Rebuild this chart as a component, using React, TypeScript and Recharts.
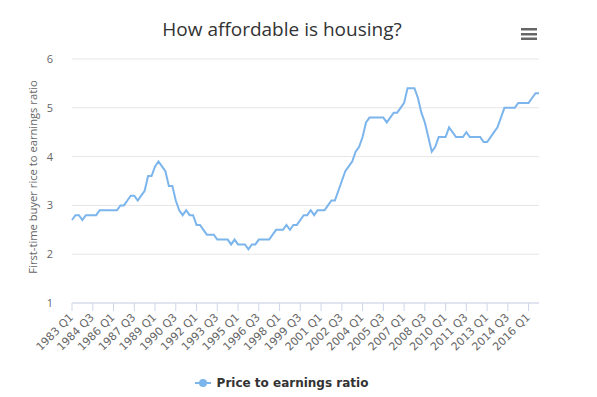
import { LineChart, Line, XAxis, YAxis, CartesianGrid, Legend } from "recharts";

const FONT = "'Open Sans', 'DejaVu Sans', sans-serif";
const WIDE = "'DejaVu Sans', 'Open Sans', sans-serif";

const firstYear = 1983;
const quarterNames = ["Q1", "Q2", "Q3", "Q4"];

// first-time buyer price to earnings ratio, quarterly from 1983 Q1
const ratio = [
  2.7, 2.8, 2.8, 2.7, 2.8, 2.8, 2.8, 2.8, 2.9, 2.9, 2.9, 2.9, 2.9, 2.9, 3.0, 3.0,
  3.1, 3.2, 3.2, 3.1, 3.2, 3.3, 3.6, 3.6, 3.8, 3.9, 3.8, 3.7, 3.4, 3.4, 3.1, 2.9,
  2.8, 2.9, 2.8, 2.8, 2.6, 2.6, 2.5, 2.4, 2.4, 2.4, 2.3, 2.3, 2.3, 2.3, 2.2, 2.3,
  2.2, 2.2, 2.2, 2.1, 2.2, 2.2, 2.3, 2.3, 2.3, 2.3, 2.4, 2.5, 2.5, 2.5, 2.6, 2.5,
  2.6, 2.6, 2.7, 2.8, 2.8, 2.9, 2.8, 2.9, 2.9, 2.9, 3.0, 3.1, 3.1, 3.3, 3.5, 3.7,
  3.8, 3.9, 4.1, 4.2, 4.4, 4.7, 4.8, 4.8, 4.8, 4.8, 4.8, 4.7, 4.8, 4.9, 4.9, 5.0,
  5.1, 5.4, 5.4, 5.4, 5.2, 4.9, 4.7, 4.4, 4.1, 4.2, 4.4, 4.4, 4.4, 4.6, 4.5, 4.4,
  4.4, 4.4, 4.5, 4.4, 4.4, 4.4, 4.4, 4.3, 4.3, 4.4, 4.5, 4.6, 4.8, 5.0, 5.0, 5.0,
  5.0, 5.1, 5.1, 5.1, 5.1, 5.2, 5.3, 5.3,
];

const yTicks = [1, 2, 3, 4, 5, 6];

const data = ratio.map((v, i) => ({
  quarter: `${firstYear + Math.floor(i / 4)} ${quarterNames[i % 4]}`,
  ratio: v,
}));

function QuarterTick({ x, y, payload }: any) {
  const tx = x + 2;
  const ty = y + 1;
  return (
    <text
      x={tx}
      y={ty}
      transform={`rotate(-45 ${tx} ${ty})`}
      textAnchor="end"
      fill="#666666"
      fontSize={11}
      fontFamily={WIDE}
    >
      {payload.value}
    </text>
  );
}

function YTitle({ viewBox }: any) {
  const cy = viewBox ? viewBox.y + viewBox.height / 2 - 4 : 177;
  return (
    <text
      x={37}
      y={cy}
      transform={`rotate(-90 37 ${cy})`}
      textAnchor="middle"
      fill="#666666"
      fontSize={11.2}
      fontFamily={FONT}
    >
      First-time buyer rice to earnings ratio
    </text>
  );
}

function LegendBox() {
  return (
    <div
      style={{
        display: "flex",
        justifyContent: "center",
        alignItems: "center",
        marginLeft: -34,
      }}
    >
      <svg width={16} height={12} style={{ marginRight: 6 }}>
        <line x1={0} y1={6} x2={16} y2={6} stroke="#7cb5ec" strokeWidth={2} />
        <circle cx={8} cy={6} r={4} fill="#7cb5ec" />
      </svg>
      <span style={{ fontSize: 12, fontWeight: "bold", color: "#333333", fontFamily: WIDE }}>
        Price to earnings ratio
      </span>
    </div>
  );
}

export default function App() {
  return (
    <div style={{ position: "absolute", left: 0, top: 0, width: 597, height: 397, background: "#fff" }}>
      <LineChart
        width={597}
        height={397}
        data={data}
        margin={{ top: 59, right: 58, bottom: 0, left: 0 }}
      >
        <CartesianGrid vertical={false} stroke="#e6e6e6" />
        <XAxis
          dataKey="quarter"
          interval={5}
          height={94}
          tickSize={8}
          tickMargin={6}
          stroke="#ccd6eb"
          tickLine={{ stroke: "#ccd6eb" }}
          axisLine={{ stroke: "#ccd6eb" }}
          tick={<QuarterTick />}
        />
        <YAxis
          domain={[1, 6]}
          ticks={yTicks}
          width={72}
          axisLine={false}
          tickLine={false}
          tickSize={0}
          tickMargin={19}
          tick={{ fill: "#666666", fontSize: 11, fontFamily: FONT }}
          label={{ content: <YTitle /> }}
        />
        <Legend
          layout="horizontal"
          verticalAlign="middle"
          align="center"
          wrapperStyle={{ top: 376, left: 0, width: 597 }}
          content={<LegendBox />}
        />
        <Line
          type="linear"
          dataKey="ratio"
          name="Price to earnings ratio"
          stroke="#7cb5ec"
          strokeWidth={2}
          dot={false}
          activeDot={false}
          isAnimationActive={false}
        />
      </LineChart>
      <div
        style={{
          position: "absolute",
          top: 16,
          left: 0,
          width: 564,
          textAlign: "center",
          fontFamily: FONT,
          fontSize: 19,
          color: "#333333",
        }}
      >
        How affordable is housing?
      </div>
      <svg width={20} height={16} style={{ position: "absolute", left: 519, top: 26 }}>
        <rect x={2} y={2} width={16} height={2.5} fill="#666666" />
        <rect x={2} y={7} width={16} height={2.5} fill="#666666" />
        <rect x={2} y={11.5} width={16} height={2.5} fill="#666666" />
      </svg>
    </div>
  );
}
